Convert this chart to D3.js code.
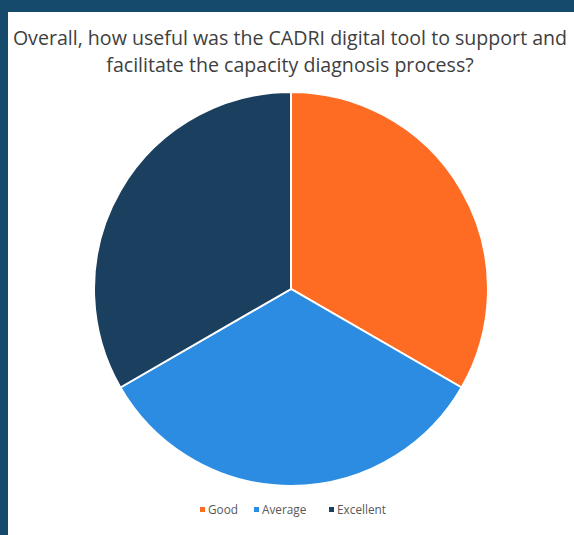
<!DOCTYPE html>
<html><head><meta charset="utf-8">
<script src="https://cdn.jsdelivr.net/npm/d3@7"></script>
<style>html,body{margin:0;padding:0;background:#fff;}svg{display:block;}</style>
</head><body>
<script>
const categories = ["Good", "Average", "Excellent"];
const values = [1, 1, 1];
const colors = ["#fe6b22", "#2b8ce2", "#1b3f5f"];
const titleLines = ["Overall, how useful was the CADRI digital tool to support and", "facilitate the capacity diagnosis process?"];

const W = 574, H = 535;
const svg = d3.select("body").append("svg").attr("width", W).attr("height", H);
svg.append("rect").attr("width", W).attr("height", H).attr("fill", "#154a6c");
svg.append("rect").attr("x", 8).attr("y", 12).attr("width", W - 8).attr("height", H - 12).attr("fill", "#ffffff");

svg.append("g").selectAll("text").data(titleLines).join("text")
  .attr("x", 290).attr("y", (d, i) => 45 + i * 27)
  .attr("text-anchor", "middle")
  .attr("font-family", "Open Sans, sans-serif").attr("font-size", 19.6)
  .attr("fill", "#404040").text(d => d);

const cx = 291, cy = 289, r = 197;
const color = d3.scaleOrdinal().domain(categories).range(colors);
const pie = d3.pie().sort(null).value((d, i) => values[i]);
const arc = d3.arc().innerRadius(0).outerRadius(r);
svg.append("g").attr("transform", `translate(${cx},${cy})`)
  .selectAll("path").data(pie(categories)).join("path")
  .attr("d", arc).attr("fill", d => color(d.data))
  .attr("stroke", "#fff").attr("stroke-width", 2);

const legendX = [200, 254, 329];
const lg = svg.append("g").selectAll("g").data(categories).join("g")
  .attr("transform", (d, i) => `translate(${legendX[i]},510)`);
lg.append("rect").attr("x", 0).attr("y", -3).attr("width", 5).attr("height", 5).attr("fill", d => color(d));
lg.append("text").attr("x", 8).attr("y", 0).attr("dy", "0.35em")
  .attr("font-family", "Open Sans, sans-serif").attr("font-size", 11.8)
  .attr("fill", "#595959").text(d => d);
</script>
</body></html>
